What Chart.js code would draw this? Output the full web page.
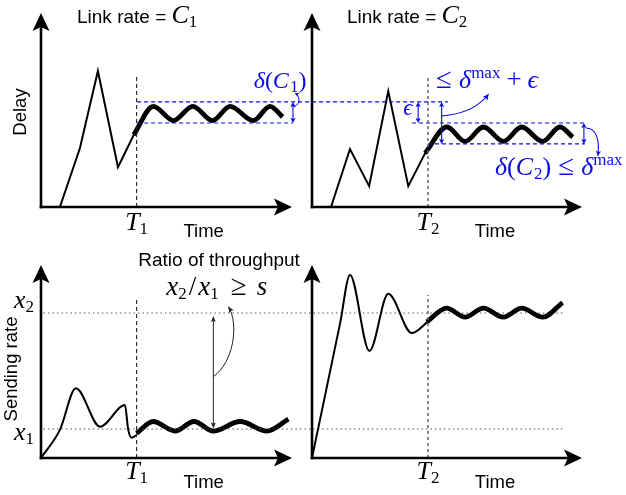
<!DOCTYPE html>
<html><head><meta charset="utf-8">
<script src="https://cdn.jsdelivr.net/npm/chart.js@4.4.1/dist/chart.umd.min.js"></script>
<style>
html,body{margin:0;padding:0;background:#fff;overflow:hidden}
#wrap{position:relative;width:626px;height:495px;background:#fff}
#wrap canvas{position:absolute;left:0;top:0}
</style></head><body>
<div id="wrap">
<canvas id="cTL" width="626" height="495"></canvas>
<canvas id="cTR" width="626" height="495"></canvas>
<canvas id="cBL" width="626" height="495"></canvas>
<canvas id="cBR" width="626" height="495"></canvas>
</div>
<script>
// ================= DATA =================
const T1 = 4.0, T2 = 4.0;
// Top-left: delay, link rate C1
const delay1TransientX = [0.79, 1.63, 2.38, 3.22, 4.02];
const delay1TransientY = [0.00, 3.10, 7.16, 2.10, 4.16];
const delay1SteadyX = [3.88, 4.70, 5.54, 6.35, 7.17, 7.91, 8.88, 9.58, 10.11];
const delay1SteadyY = [3.80, 5.30, 4.55, 5.30, 4.55, 5.30, 4.55, 5.30, 4.74];
const delta1Band = [4.42, 5.53];          // lower, upper delay of the band
const delta1BandX = [4.02, 10.54, 17.03]; // start, end of lower line, end of upper line
// Top-right: delay, link rate C2
const delay2TransientX = [0.655, 1.31, 1.97, 2.63, 3.32, 3.99];
const delay2TransientY = [0.00, 3.05, 1.10, 6.10, 1.10, 3.10];
const delay2SteadyX = [3.90, 4.65, 5.28, 5.91, 6.60, 7.23, 7.95, 8.55, 8.99];
const delay2SteadyY = [2.83, 4.21, 3.45, 4.21, 3.45, 4.21, 3.45, 4.21, 3.68];
const delta2Band = [3.32, 4.42, 5.53];    // lower, upper, previous upper
const delta2BandX = [3.45, 4.00, 9.41];   // upper start, lower start, end
const epsArrowX = 3.66, maxArrowX = 4.47;
// Bottom-left: sending rate, flow 1
const rate1TransientX = [0.00, 0.79, 1.46, 2.47, 3.51, 3.65, 3.79, 4.00];
const rate1TransientY = [0.00, 1.47, 3.65, 1.64, 2.77, 1.47, 1.06, 1.20];
const rate1SteadyX = [4.00, 4.69, 5.61, 6.40, 7.21, 8.33, 9.45, 10.35];
const rate1SteadyY = [1.29, 1.91, 1.41, 1.91, 1.41, 1.91, 1.41, 2.03];
const rateLevels = [1.52, 7.59];          // x1, x2
const rateLevelX = [0.1, 21.84];
const ratioArrow = [7.21, 1.55, 7.43];    // x, bottom, top
// Bottom-right: sending rate, flow 2
const rate2TransientX = [0.00, 0.97, 1.31, 1.98, 2.63, 3.44, 3.99];
const rate2TransientY = [0.00, 7.06, 9.58, 5.60, 8.59, 6.54, 7.12];
const rate2SteadyX = [3.96, 4.64, 5.28, 5.91, 6.60, 7.23, 7.96, 8.64];
const rate2SteadyY = [7.12, 7.84, 7.37, 7.84, 7.37, 7.84, 7.37, 8.13];
// vertical marker tops
const markerTops = [6.9, 6.95, 8.38, 8.53];

// ================= STYLE / HELPERS =================
const SANS = "'Liberation Sans', Arial, sans-serif";
const SERIF = "'Liberation Serif', 'DejaVu Serif', serif";
const BLUE = '#0a0ae8';
const mi = s => `italic ${s}px ${SERIF}`;
const mr = s => `${s}px ${SERIF}`;
const sf = s => `${s}px ${SANS}`;
const pts = (xs, ys) => xs.map((x, i) => ({x, y: ys[i]}));

function rich(ctx, x, y, parts, align, color) {
  let w = 0;
  parts.forEach(p => { ctx.font = p[1]; w += ctx.measureText(p[0]).width + (p[3] || 0); });
  let cx = align === 'center' ? x - w / 2 : (align === 'right' ? x - w : x);
  ctx.fillStyle = color || '#000'; ctx.textAlign = 'left'; ctx.textBaseline = 'alphabetic';
  parts.forEach(p => { ctx.font = p[1]; ctx.fillText(p[0], cx, y + (p[2] || 0)); cx += ctx.measureText(p[0]).width + (p[3] || 0); });
}
function head(ctx, x, y, ang, len, hw, color, notch) {
  ctx.save(); ctx.translate(x, y); ctx.rotate(ang);
  ctx.beginPath(); ctx.moveTo(0, 0); ctx.lineTo(-len, -hw); ctx.lineTo(-len * (1 - (notch || 0)), 0); ctx.lineTo(-len, hw); ctx.closePath();
  ctx.fillStyle = color; ctx.fill(); ctx.restore();
}
function vArrow(ctx, x, yTop, yBot, color, lw, hl, hw) {
  ctx.save(); ctx.strokeStyle = color; ctx.lineWidth = lw; ctx.setLineDash([]);
  ctx.beginPath(); ctx.moveTo(x, yTop + hl * 0.8); ctx.lineTo(x, yBot - hl * 0.8); ctx.stroke(); ctx.restore();
  head(ctx, x, yTop, -Math.PI / 2, hl, hw, color, 0.2);
  head(ctx, x, yBot, Math.PI / 2, hl, hw, color, 0.2);
}
function curveArrow(ctx, p0, c1, c2, p1, color, lw, hl, hw) {
  ctx.save(); ctx.strokeStyle = color; ctx.lineWidth = lw; ctx.setLineDash([]);
  ctx.beginPath(); ctx.moveTo(p0[0], p0[1]); ctx.bezierCurveTo(c1[0], c1[1], c2[0], c2[1], p1[0], p1[1]); ctx.stroke(); ctx.restore();
  head(ctx, p1[0], p1[1], Math.atan2(p1[1] - c2[1], p1[0] - c2[0]), hl, hw, color, 0.2);
}
function drawAxes(chart) {
  const {ctx, chartArea: a} = chart;
  ctx.save(); ctx.strokeStyle = '#000'; ctx.lineWidth = 2.6; ctx.setLineDash([]);
  ctx.beginPath(); ctx.moveTo(a.left, a.bottom + 1.3); ctx.lineTo(a.left, a.top + 12); ctx.stroke();
  ctx.beginPath(); ctx.moveTo(a.left - 1.3, a.bottom); ctx.lineTo(a.right - 12, a.bottom); ctx.stroke();
  ctx.restore();
  head(ctx, a.left, a.top, -Math.PI / 2, 18, 8.5, '#000', 0.22);
  head(ctx, a.right, a.bottom, 0, 18, 8.5, '#000', 0.22);
}
function tLabel(chart, T, sub, base) {
  const ctx = chart.ctx, X = chart.scales.x.getPixelForValue(T), a = chart.chartArea;
  rich(ctx, X, a.bottom + base, [['T', mi(26)], [sub, mr(17), 4]], 'center');
  ctx.font = sf(18.5); ctx.fillStyle = '#000'; ctx.textAlign = 'center'; ctx.textBaseline = 'alphabetic';
  ctx.fillText('Time', X + 67, a.bottom + 29.5);
}
function lineDs(data, color, width, extra) {
  return Object.assign({data, borderColor: color, borderWidth: width, pointRadius: 0, fill: false, tension: 0}, extra || {});
}
function makeChart(id, pad, xMax, yMax, datasets, draw) {
  return new Chart(document.getElementById(id), {
    type: 'line',
    data: {datasets},
    options: {
      responsive: false, animation: false, events: [],
      layout: {padding: pad},
      scales: {
        x: {type: 'linear', min: 0, max: xMax, display: false},
        y: {type: 'linear', min: 0, max: yMax, display: false}
      },
      plugins: {legend: {display: false}, tooltip: {enabled: false}, title: {display: false}}
    },
    plugins: [{id: 'deco' + id, afterDraw: draw}]
  });
}
const thin = (xs, ys, smooth) => lineDs(pts(xs, ys), '#000', 2, smooth ? {cubicInterpolationMode: 'monotone'} : {});
const thick = (xs, ys) => lineDs(pts(xs, ys), '#000', 4.8, {cubicInterpolationMode: 'monotone', borderCapStyle: 'butt'});
const vMark = (T, top, color, dash, w) => lineDs([{x: T, y: 0}, {x: T, y: top}], color, w, {borderDash: dash});
const hLine = (x0, x1, y, color, dash, w) => lineDs([{x: x0, y}, {x: x1, y}], color, w, {borderDash: dash, clip: false});

// ================= TOP LEFT =================
makeChart('cTL', {left: 41, top: 13, right: 334, bottom: 288}, 10.5, 10.21, [
  vMark(T1, markerTops[0], '#222', [4, 3], 1.1),
  hLine(delta1BandX[0], delta1BandX[2], delta1Band[1], BLUE, [4, 3], 1.1),
  hLine(delta1BandX[0], delta1BandX[1], delta1Band[0], BLUE, [4, 3], 1.1),
  thin(delay1TransientX, delay1TransientY, false),
  thick(delay1SteadyX, delay1SteadyY)
], chart => {
  const ctx = chart.ctx, sx = chart.scales.x, sy = chart.scales.y, a = chart.chartArea;
  drawAxes(chart);
  rich(ctx, a.left + 36, 23, [['Link rate = ', sf(19)], ['C', mi(26)], ['1', mr(17), 4]], 'left');
  ctx.save(); ctx.translate(21, 112); ctx.rotate(-Math.PI / 2);
  ctx.font = sf(18.5); ctx.fillStyle = '#000'; ctx.textAlign = 'center'; ctx.textBaseline = 'middle';
  ctx.fillText('Delay', 0, 0); ctx.restore();
  tLabel(chart, T1, '1', 23);
  const bx = sx.getPixelForValue(delta1BandX[1]);
  vArrow(ctx, bx, sy.getPixelForValue(delta1Band[1]), sy.getPixelForValue(delta1Band[0]), BLUE, 1.1, 5, 2.6);
  rich(ctx, sx.getPixelForValue(10.0), sy.getPixelForValue(6.26),
    [['δ', mi(24)], ['(', mr(24)], ['C', mi(24), 0, 1], ['1', mr(17), 4], [')', mr(24)]], 'center', BLUE);
  const ty = sy.getPixelForValue(delta1Band[1]);
  curveArrow(ctx, [bx + 1, ty + 5], [bx + 8, ty + 2], [bx + 7, ty - 6], [bx + 2, ty - 9], BLUE, 1, 4, 2.2);
});

// ================= TOP RIGHT =================
makeChart('cTR', {left: 312, top: 13, right: 44, bottom: 288}, 9.31, 10.21, [
  vMark(T2, markerTops[1], '#666', [3, 3], 1.5),
  hLine(delta2BandX[0], delta2BandX[2], delta2Band[1], BLUE, [4, 3], 1.1),
  hLine(delta2BandX[1], delta2BandX[2], delta2Band[0], BLUE, [4, 3], 1.1),
  thin(delay2TransientX, delay2TransientY, false),
  thick(delay2SteadyX, delay2SteadyY)
], chart => {
  const ctx = chart.ctx, sx = chart.scales.x, sy = chart.scales.y, a = chart.chartArea;
  drawAxes(chart);
  rich(ctx, a.left + 35, 23, [['Link rate = ', sf(19)], ['C', mi(26)], ['2', mr(17), 4]], 'left');
  tLabel(chart, T2, '2', 23);
  const yTopRef = sy.getPixelForValue(delta2Band[2]), yUp = sy.getPixelForValue(delta2Band[1]), yLo = sy.getPixelForValue(delta2Band[0]);
  // epsilon
  vArrow(ctx, sx.getPixelForValue(epsArrowX), yTopRef, yUp, BLUE, 1.1, 5, 2.6);
  rich(ctx, sx.getPixelForValue(3.31), sy.getPixelForValue(4.84), [['ϵ', mi(23)]], 'center', BLUE);
  // delta max + eps
  const mx = sx.getPixelForValue(maxArrowX);
  vArrow(ctx, mx, yTopRef, yLo, BLUE, 1.1, 5, 2.6);
  const my = sy.getPixelForValue(4.79);
  curveArrow(ctx, [mx, my], [mx + 24, my - 2], [mx + 38, my - 10], [mx + 47, my - 22], BLUE, 1.1, 6, 3);
  rich(ctx, sx.getPixelForValue(4.28), sy.getPixelForValue(6.26),
    [['≤', mr(29), 0, 7], ['δ', mi(26)], ['max', mr(17), -10, 6], ['+', mr(27), 0, 6], ['ϵ', mi(26)]], 'left', BLUE);
  // right band arrow
  const rx = sx.getPixelForValue(delta2BandX[2]) - 1;
  vArrow(ctx, rx, yUp, yLo, BLUE, 1.1, 5, 2.6);
  curveArrow(ctx, [rx + 2, yUp + 5], [rx + 12, yUp + 5], [rx + 16, yUp + 16], [rx + 14, yUp + 33], BLUE, 1.1, 5, 2.6);
  rich(ctx, sx.getPixelForValue(6.31), sy.getPixelForValue(1.68),
    [['δ', mi(26)], ['(', mr(26)], ['C', mi(26), 0, 1], ['2', mr(17), 4], [')', mr(26), 0, 7], ['≤', mr(29), 0, 7], ['δ', mi(26)], ['max', mr(17), -10]], 'left', BLUE);
});

// ================= BOTTOM LEFT =================
makeChart('cBL', {left: 41, top: 265, right: 334, bottom: 37}, 10.5, 10.1, [
  hLine(rateLevelX[0], rateLevelX[1], rateLevels[1], '#555', [1.5, 3], 1.1),
  hLine(rateLevelX[0], rateLevelX[1], rateLevels[0], '#555', [1.5, 3], 1.1),
  vMark(T1, markerTops[2], '#222', [4, 3], 1.1),
  thin(rate1TransientX, rate1TransientY, true),
  thick(rate1SteadyX, rate1SteadyY)
], chart => {
  const ctx = chart.ctx, sx = chart.scales.x, sy = chart.scales.y, a = chart.chartArea;
  drawAxes(chart);
  ctx.save(); ctx.translate(12, 369); ctx.rotate(-Math.PI / 2);
  ctx.font = sf(18.5); ctx.fillStyle = '#000'; ctx.textAlign = 'center'; ctx.textBaseline = 'middle';
  ctx.fillText('Sending rate', 0, 0); ctx.restore();
  rich(ctx, a.left - 7, sy.getPixelForValue(rateLevels[1]) - 5, [['x', mi(26)], ['2', mr(17), 4]], 'right');
  rich(ctx, a.left - 7, sy.getPixelForValue(rateLevels[0]) + 11, [['x', mi(26)], ['1', mr(17), 4]], 'right');
  tLabel(chart, T1, '1', 21);
  const ax = sx.getPixelForValue(ratioArrow[0]);
  vArrow(ctx, ax, sy.getPixelForValue(ratioArrow[2]), sy.getPixelForValue(ratioArrow[1]), '#222', 1, 6, 2.4);
  const cy = sy.getPixelForValue(4.26);
  curveArrow(ctx, [ax, cy], [ax + 20, cy - 14], [ax + 26, cy - 52], [ax + 15, cy - 70], '#222', 1, 6, 2.6);
  ctx.font = sf(19); ctx.fillStyle = '#000'; ctx.textAlign = 'center'; ctx.textBaseline = 'alphabetic';
  ctx.fillText('Ratio of throughput', sx.getPixelForValue(7.45), sy.getPixelForValue(10.05));
  rich(ctx, sx.getPixelForValue(7.35), sy.getPixelForValue(8.53),
    [['x', mi(27)], ['2', mr(17), 4, 2], ['/', mr(27), 0, 2], ['x', mi(27)], ['1', mr(17), 4, 12], ['≥', mr(29), 0, 10], ['s', mi(27)]], 'center');
});

// ================= BOTTOM RIGHT =================
makeChart('cBR', {left: 312, top: 265, right: 44, bottom: 37}, 9.31, 10.1, [
  vMark(T2, markerTops[3], '#666', [3, 3], 1.5),
  thin(rate2TransientX, rate2TransientY, true),
  thick(rate2SteadyX, rate2SteadyY)
], chart => {
  drawAxes(chart);
  tLabel(chart, T2, '2', 21);
});
</script>
</body></html>
